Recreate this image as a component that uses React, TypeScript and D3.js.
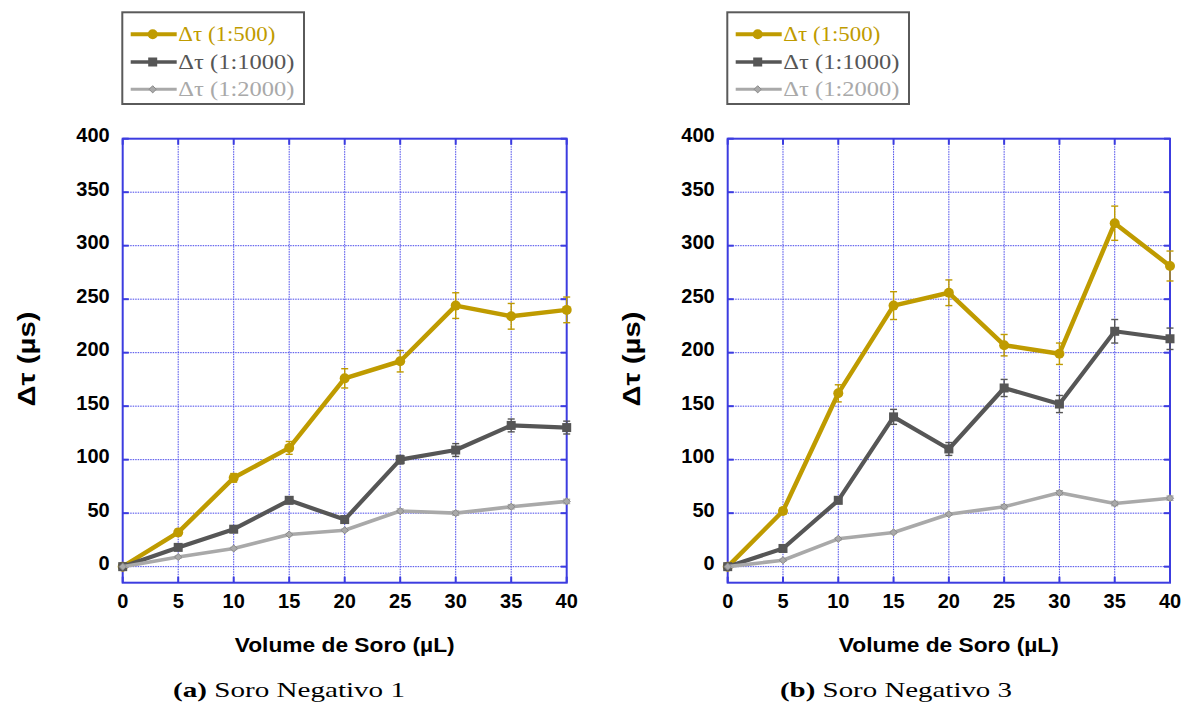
import React from "react";
import * as d3 from "d3";

// Serum volume (µL) on the x axis
const volumes = [0, 5, 10, 15, 20, 25, 30, 35, 40];
const yTicks = [0, 50, 100, 150, 200, 250, 300, 350, 400];

const seriesLabels = ["Δτ (1:500)", "Δτ (1:1000)", "Δτ (1:2000)"];
const seriesColors = ["#bf9b00", "#565656", "#a9a9a9"];

// Soro Negativo 1
const neg1_500 = [0, 32, 83, 111, 176, 192, 244, 234, 240];
const neg1_500_err = [0, 3, 4, 6, 9, 10, 12, 12, 12];
const neg1_1000 = [0, 18, 35, 62, 44, 100, 109, 132, 130];
const neg1_1000_err = [0, 2, 3, 3, 3, 4, 6, 6, 6];
const neg1_2000 = [0, 9, 17, 30, 34, 52, 50, 56, 61];
const neg1_2000_err = [0, 1, 1, 1, 1, 2, 2, 2, 2];

// Soro Negativo 3
const neg3_500 = [0, 52, 162, 244, 256, 207, 199, 321, 281];
const neg3_500_err = [0, 3, 8, 13, 12, 10, 10, 16, 14];
const neg3_1000 = [0, 17, 62, 140, 110, 167, 152, 220, 213];
const neg3_1000_err = [0, 3, 3, 7, 6, 8, 8, 11, 10];
const neg3_2000 = [0, 6, 26, 32, 49, 56, 69, 59, 64];
const neg3_2000_err = [0, 1, 1, 1, 1, 2, 2, 2, 2];

const AXIS_BLUE = "#3c3ce0";
const GRID_BLUE = "#4646ea";

type Series = { values: number[]; errors: number[] };

type PanelProps = {
  left: number;
  right: number;
  tag: string;
  caption: string;
  captionX: number;
  series: Series[];
};

const TOP = 138.7;
const BOTTOM = 582.7;

function Marker({ kind, x, y, color }: { kind: number; x: number; y: number; color: string }) {
  if (kind === 0) return <circle cx={x} cy={y} r={5} fill={color} />;
  if (kind === 1) return <rect x={x - 4.5} y={y - 4.5} width={9} height={9} fill={color} />;
  const s = 3.6;
  return (
    <path
      d={`M${x},${y - s}L${x + s},${y}L${x},${y + s}L${x - s},${y}Z`}
      fill={color}
      stroke="#8a8a8a"
      strokeWidth={1}
    />
  );
}

function Panel({ left, right, tag, caption, captionX, series }: PanelProps) {
  const x = d3.scaleLinear().domain([0, 40]).range([left, right]);
  const y = d3.scaleLinear().domain([-15, 400]).range([BOTTOM, TOP]);
  const widths = [4.5, 4.2, 3.6];
  const capW = 3.5;
  const legendX = left - 0.4;
  const legendY = 12.3;
  const rowY = [34.3, 62, 89.3];
  const textLens = [97, 116, 116];

  return (
    <g>
      {/* legend */}
      <rect x={legendX} y={legendY} width={181.7} height={91.7} fill="#fff" stroke="#5a5a5a" strokeWidth={2} />
      {seriesLabels.map((lab, i) => (
        <g key={lab}>
          <line x1={legendX + 8.4} x2={legendX + 54.4} y1={rowY[i]} y2={rowY[i]} stroke={seriesColors[i]} strokeWidth={widths[i] - 0.6} />
          <Marker kind={i} x={legendX + 30.4} y={rowY[i]} color={seriesColors[i]} />
          <text
            x={legendX + 56}
            y={rowY[i] + 7}
            fontFamily="'Liberation Serif', 'Times New Roman', serif"
            fontSize={21}
            fill={seriesColors[i]}
            textLength={textLens[i]}
            lengthAdjust="spacingAndGlyphs"
          >
            {lab}
          </text>
        </g>
      ))}

      {/* grid */}
      {volumes.slice(1, -1).map((v) => (
        <line key={"gx" + v} x1={x(v)} x2={x(v)} y1={TOP} y2={BOTTOM} stroke={GRID_BLUE} strokeWidth={1} strokeDasharray="1.5,1" />
      ))}
      {yTicks.slice(0, -1).map((v) => (
        <line key={"gy" + v} x1={left} x2={right} y1={y(v)} y2={y(v)} stroke={GRID_BLUE} strokeWidth={1} strokeDasharray="1.5,1" />
      ))}

      {/* frame */}
      <rect x={left} y={TOP} width={right - left} height={BOTTOM - TOP} fill="none" stroke={AXIS_BLUE} strokeWidth={2} />
      {volumes.map((v) => (
        <g key={"tx" + v}>
          <line x1={x(v)} x2={x(v)} y1={TOP} y2={TOP + 6} stroke={AXIS_BLUE} strokeWidth={2} />
          <line x1={x(v)} x2={x(v)} y1={BOTTOM} y2={BOTTOM - 6} stroke={AXIS_BLUE} strokeWidth={2} />
          <text
            x={x(v)}
            y={608}
            textAnchor="middle"
            fontFamily="'Liberation Sans', Arial, sans-serif"
            fontWeight="bold"
            fontSize={20}
            fill="#000"
          >
            {v}
          </text>
        </g>
      ))}
      {yTicks.map((v) => (
        <g key={"ty" + v}>
          <line x1={left} x2={left + 6} y1={y(v)} y2={y(v)} stroke={AXIS_BLUE} strokeWidth={2} />
          <line x1={right} x2={right - 6} y1={y(v)} y2={y(v)} stroke={AXIS_BLUE} strokeWidth={2} />
          <text
            x={left - 13}
            y={y(v) + 3.5}
            textAnchor="end"
            fontFamily="'Liberation Sans', Arial, sans-serif"
            fontWeight="bold"
            fontSize={20}
            fill="#000"
          >
            {v}
          </text>
        </g>
      ))}

      {/* series: error bars, lines, markers */}
      {series.map((s, i) => {
        const line = d3
          .line<number>()
          .x((_, j) => x(volumes[j]))
          .y((d) => y(d));
        return (
          <g key={"s" + i}>
            {s.values.map((v, j) =>
              s.errors[j] > 0 ? (
                <g key={"e" + j} stroke={seriesColors[i]} strokeWidth={1.4}>
                  <line x1={x(volumes[j])} x2={x(volumes[j])} y1={y(v + s.errors[j])} y2={y(v - s.errors[j])} />
                  <line x1={x(volumes[j]) - capW} x2={x(volumes[j]) + capW} y1={y(v + s.errors[j])} y2={y(v + s.errors[j])} />
                  <line x1={x(volumes[j]) - capW} x2={x(volumes[j]) + capW} y1={y(v - s.errors[j])} y2={y(v - s.errors[j])} />
                </g>
              ) : null
            )}
            <path d={line(s.values) || ""} fill="none" stroke={seriesColors[i]} strokeWidth={widths[i]} strokeLinejoin="round" />
            {s.values.map((v, j) => (
              <Marker key={"m" + j} kind={i} x={x(volumes[j])} y={y(v)} color={seriesColors[i]} />
            ))}
          </g>
        );
      })}

      {/* axis titles */}
      <text
        x={(left + right) / 2}
        y={652}
        textAnchor="middle"
        fontFamily="'Liberation Sans', Arial, sans-serif"
        fontWeight="bold"
        fontSize={20}
        textLength={220}
        lengthAdjust="spacingAndGlyphs"
        fill="#000"
      >
        Volume de Soro (µL)
      </text>
      <text
        transform={`translate(${left - 96},359) rotate(-90)`}
        textAnchor="middle"
        dy={8}
        fontFamily="'Liberation Sans', Arial, sans-serif"
        fontWeight="bold"
        fontSize={23}
        textLength={95}
        lengthAdjust="spacingAndGlyphs"
        fill="#000"
      >
        Δτ (µs)
      </text>

      {/* caption */}
      <text
        x={captionX}
        y={697}
        textAnchor="middle"
        fontFamily="'Liberation Serif', 'Times New Roman', serif"
        fontSize={21}
        fill="#000"
        textLength={232}
        lengthAdjust="spacingAndGlyphs"
      >
        <tspan fontWeight="bold">{tag}</tspan>
        {" " + caption}
      </text>
    </g>
  );
}

export default function App() {
  const panelA: Series[] = [
    { values: neg1_500, errors: neg1_500_err },
    { values: neg1_1000, errors: neg1_1000_err },
    { values: neg1_2000, errors: neg1_2000_err },
  ];
  const panelB: Series[] = [
    { values: neg3_500, errors: neg3_500_err },
    { values: neg3_1000, errors: neg3_1000_err },
    { values: neg3_2000, errors: neg3_2000_err },
  ];
  return (
    <svg
      width={1184}
      height={704}
      viewBox="0 0 1184 704"
      style={{ position: "absolute", left: 0, top: 0, background: "#fff" }}
    >
      <rect x={0} y={0} width={1184} height={704} fill="#fff" />
      <Panel left={122.7} right={566.7} tag="(a)" caption="Soro Negativo 1" captionX={289} series={panelA} />
      <Panel left={727.7} right={1170} tag="(b)" caption="Soro Negativo 3" captionX={896} series={panelB} />
    </svg>
  );
}
